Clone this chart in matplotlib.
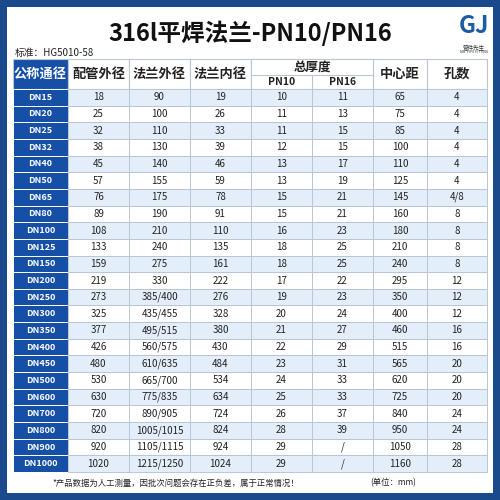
import matplotlib.pyplot as plt
from matplotlib.patches import Rectangle

plt.rcParams['font.family'] = ['Noto Sans CJK SC', 'DejaVu Sans']

title = '316l平焊法兰-PN10/PN16'
standard = '标准：HG5010-58'
footnote = '*产品数据为人工测量，因批次问题会存在正负差，属于正常情况！'
unit = '(单位：mm)'

dn = ['DN15', 'DN20', 'DN25', 'DN32', 'DN40', 'DN50', 'DN65', 'DN80', 'DN100',
      'DN125', 'DN150', 'DN200', 'DN250', 'DN300', 'DN350', 'DN400', 'DN450',
      'DN500', 'DN600', 'DN700', 'DN800', 'DN900', 'DN1000']
pipe_od = ['18', '25', '32', '38', '45', '57', '76', '89', '108', '133', '159', '219',
           '273', '325', '377', '426', '480', '530', '630', '720', '820', '920', '1020']
flange_od = ['90', '100', '110', '130', '140', '155', '175', '190', '210', '240', '275',
             '330', '385/400', '435/455', '495/515', '560/575', '610/635', '665/700',
             '775/835', '890/905', '1005/1015', '1105/1115', '1215/1250']
flange_id = ['19', '26', '33', '39', '46', '59', '78', '91', '110', '135', '161', '222',
             '276', '328', '380', '430', '484', '534', '634', '724', '824', '924', '1024']
pn10 = ['10', '11', '11', '12', '13', '13', '15', '15', '16', '18', '18', '17', '19',
        '20', '21', '22', '23', '24', '25', '26', '28', '29', '29']
pn16 = ['11', '13', '15', '15', '17', '19', '21', '21', '23', '25', '25', '22', '23',
        '24', '27', '29', '31', '33', '33', '37', '39', '/', '/']
pcd = ['65', '75', '85', '100', '110', '125', '145', '160', '180', '210', '240', '295',
       '350', '400', '460', '515', '565', '620', '725', '840', '950', '1050', '1160']
holes = ['4', '4', '4', '4', '4', '4', '4/8', '8', '8', '8', '8', '12', '12', '12',
         '16', '16', '20', '20', '20', '24', '24', '28', '28']

headers = ['公称通径', '配管外径', '法兰外径', '法兰内径', '总厚度', '', '中心距', '孔数']
sub_headers = ['PN10', 'PN16']

col_x = [13, 68, 129, 190, 251, 312, 373, 427, 487]
head_top, head_mid, head_bot = 59, 75, 89
row_h = (472 - head_bot) / len(dn)

blue = '#1550a6'
dark = '#1a4a8c'
light = '#e4eefa'
grid = '#b9c6d6'

fig = plt.figure(figsize=(5, 5), dpi=100)
fig.patch.set_facecolor(dark)
ax = fig.add_axes([0, 0, 1, 1])
ax.set_xlim(0, 500)
ax.set_ylim(500, 0)
ax.axis('off')

ax.add_patch(Rectangle((7, 7), 486, 486, facecolor='white', edgecolor='none'))

ax.text(250, 33, title, ha='center', va='center', fontsize=17, fontweight='bold', color='#111')
ax.text(15, 53, standard, ha='left', va='center', fontsize=7, color='#222')
ax.text(474, 26, 'GJ', ha='center', va='center', fontsize=17, fontweight='bold',
        fontstyle='italic', color='#1d5ba3')
ax.text(474, 47, '管件先生', ha='center', va='center', fontsize=4, color='#333')
ax.text(474, 52, 'MR. PIPE FITTING', ha='center', va='center', fontsize=2.5, color='#333')

# header
for i in range(8):
    x0, x1 = col_x[i], col_x[i + 1]
    fc = blue if i == 0 else 'white'
    ax.add_patch(Rectangle((x0, head_top), x1 - x0, head_bot - head_top,
                           facecolor=fc, edgecolor=grid, lw=0.8))
ax.add_patch(Rectangle((col_x[4], head_top), col_x[6] - col_x[4], head_bot - head_top,
                       facecolor='white', edgecolor=grid, lw=0.8))
ax.plot([col_x[4], col_x[6]], [head_mid, head_mid], color=grid, lw=0.8)
ax.plot([col_x[5], col_x[5]], [head_mid, head_bot], color=grid, lw=0.8)
for i, h in enumerate(headers):
    if i in (4, 5):
        continue
    cx = (col_x[i] + col_x[i + 1]) / 2
    ax.text(cx, (head_top + head_bot) / 2, h, ha='center', va='center', fontsize=9.5,
            fontweight='bold', color='white' if i == 0 else '#222')
ax.text(col_x[5], (head_top + head_mid) / 2, headers[4], ha='center', va='center',
        fontsize=9, fontweight='bold', color='#222')
for j, s in enumerate(sub_headers):
    cx = (col_x[4 + j] + col_x[5 + j]) / 2
    ax.text(cx, (head_mid + head_bot) / 2, s, ha='center', va='center', fontsize=7.5,
            fontweight='bold', color='#222')

columns = [dn, pipe_od, flange_od, flange_id, pn10, pn16, pcd, holes]
for r in range(len(dn)):
    y0 = head_bot + r * row_h
    for c, col in enumerate(columns):
        x0, x1 = col_x[c], col_x[c + 1]
        if c == 0:
            fc = blue
        else:
            fc = light if r % 2 == 0 else 'white'
        ax.add_patch(Rectangle((x0, y0), x1 - x0, row_h, facecolor=fc,
                               edgecolor='white' if c == 0 else grid, lw=0.7))
        ax.text((x0 + x1) / 2, y0 + row_h / 2, col[r], ha='center', va='center',
                fontsize=6.5 if c == 0 else 7, fontweight='bold' if c == 0 else 'normal',
                color='white' if c == 0 else '#222')

ax.text(52, 483, footnote, ha='left', va='center', fontsize=6, color='#222')
ax.text(370, 483, unit, ha='left', va='center', fontsize=6, color='#222')

fig.savefig('out.png', dpi=100, facecolor=fig.get_facecolor())
